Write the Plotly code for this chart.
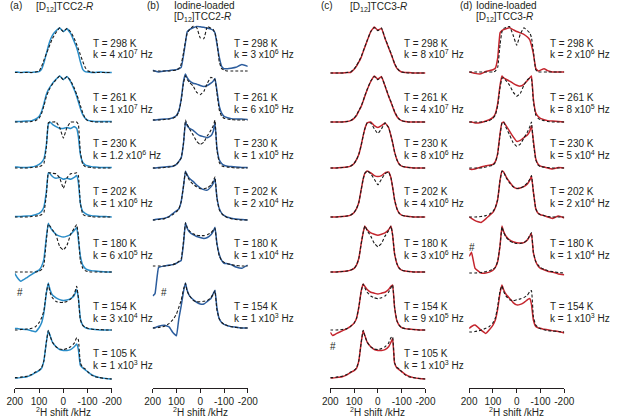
import plotly.graph_objects as go

# ---------------- data ----------------
X_KHZ = [200, 190, 175, 150, 130, 115, 100, 90, 80, 70, 62, 55, 45, 30, 15, 0,
         -15, -30, -45, -55, -62, -70, -80, -90, -100, -115, -130, -150, -175, -200]

A_TEMPS = [298, 261, 230, 202, 180, 154, 105]
A_RATES = ["4 x10<sup>7</sup>", "1 x10<sup>7</sup>", "1.2 x10<sup>6</sup>", "1 x10<sup>6</sup>",
           "6 x10<sup>5</sup>", "3 x10<sup>4</sup>", "1 x10<sup>3</sup>"]
A_EXP = [
    [2, 2, 1, 2, 1, 2, 3, 8, 22, 42, 58, 70, 82, 92, 98, 90, 96, 86, 68, 55, 42, 25, 8, 3, 2, 1, 1, 2, 1, 1],
    [1, 1, 1, 2, 3, 6, 12, 22, 40, 60, 70, 76, 84, 93, 100, 92, 99, 88, 70, 56, 44, 30, 16, 8, 4, 2, 1, 1, 1, 1],
    [2, 2, 1, 1, 2, 4, 8, 12, 20, 50, 95, 100, 95, 90, 86, 86, 88, 86, 90, 86, 68, 30, 12, 7, 5, 3, 2, 1, 1, 1],
    [1, 1, 1, 2, 3, 5, 8, 12, 22, 55, 96, 94, 88, 84, 86, 82, 84, 82, 86, 90, 75, 30, 12, 8, 5, 3, 2, 1, 1, 0],
    [-3, -12, -20, -12, -5, 0, 4, 12, 28, 75, 106, 98, 90, 82, 78, 76, 78, 82, 90, 97, 70, 35, 15, 8, 5, 3, 2, 1, 0, 0],
    [3, 3, 2, 1, -2, -4, 5, 15, 38, 80, 102, 88, 76, 70, 66, 64, 65, 68, 75, 88, 70, 25, 10, 5, 3, 2, 1, 0, 0, 0],
    [2, 2, 3, 5, 9, 14, 18, 23, 40, 80, 105, 95, 80, 70, 64, 62, 62, 64, 70, 76, 64, 30, 24, 20, 16, 10, 6, 3, 1, 0],
]
A_SIM = [
    [1, 1, 1, 1, 1, 2, 4, 14, 28, 42, 52, 62, 75, 88, 98, 90, 97, 90, 75, 62, 52, 40, 25, 12, 5, 2, 1, 1, 1, 1],
    [0, 0, 0, 0, 1, 3, 8, 18, 35, 55, 66, 74, 82, 92, 100, 92, 99, 90, 74, 60, 50, 36, 20, 8, 3, 1, 0, 0, 0, 0],
    [0, 0, 0, 0, 1, 2, 3, 5, 10, 45, 98, 100, 100, 100, 88, 65, 88, 100, 100, 100, 95, 35, 8, 3, 2, 1, 0, 0, 0, 0],
    [0, 0, 0, 0, 1, 2, 3, 5, 10, 48, 96, 96, 95, 94, 85, 62, 85, 94, 95, 96, 90, 30, 6, 3, 2, 1, 0, 0, 0, 0],
    [0, 0, 0, 0, 0, 0, 2, 5, 15, 70, 104, 100, 92, 80, 55, 48, 58, 82, 95, 103, 80, 25, 8, 3, 1, 0, 0, 0, 0, 0],
    [0, 0, 1, 2, 4, 7, 16, 26, 42, 82, 100, 82, 70, 62, 60, 60, 62, 67, 78, 95, 70, 22, 10, 6, 4, 2, 1, 1, 0, 0],
    [3, 3, 4, 6, 10, 15, 19, 24, 40, 80, 106, 94, 80, 70, 65, 64, 66, 70, 78, 90, 85, 35, 25, 22, 16, 9, 5, 3, 1, 0],
]

B_TEMPS = [298, 261, 230, 202, 180, 154]
B_RATES = ["3 x10<sup>6</sup>", "6 x10<sup>5</sup>", "1 x10<sup>5</sup>", "2 x10<sup>4</sup>",
           "1 x10<sup>4</sup>", "1 x10<sup>3</sup>"]
B_EXP = [
    [2, 0, -2, 0, 1, 2, 3, 5, 8, 35, 62, 85, 90, 94, 97, 96, 95, 93, 91, 88, 83, 60, 30, 10, 5, 5, 6, 8, 14, 10],
    [0, 0, 1, 2, 3, 5, 10, 20, 45, 85, 100, 92, 85, 80, 78, 75, 73, 75, 80, 85, 90, 65, 30, 15, 8, 5, 3, 2, 2, 1],
    [0, 0, 1, 2, 3, 4, 8, 14, 22, 55, 100, 92, 86, 82, 75, 70, 68, 66, 70, 80, 98, 45, 18, 10, 6, 4, 3, 2, 1, 1],
    [0, 1, 2, 4, 8, 14, 20, 24, 40, 75, 106, 98, 90, 84, 76, 70, 66, 65, 72, 80, 90, 50, 25, 15, 10, 6, 4, 2, 1, 0],
    [-65, -60, -3, 0, 2, 3, 6, 9, 12, 50, 94, 82, 74, 68, 64, 62, 60, 62, 68, 76, 84, 50, 25, 12, 6, 5, 3, -2, -5, 2],
    [0, 1, 4, 6, 2, -10, -17, 20, 48, 80, 98, 82, 70, 62, 56, 52, 52, 58, 64, 75, 82, 45, 20, 12, 8, 5, 3, 2, 0, 0],
]
B_SIM = [
    [0, 0, 0, 0, 0, 1, 2, 5, 15, 40, 65, 82, 90, 97, 95, 72, 70, 97, 93, 90, 82, 65, 20, 5, 2, 0, 0, 0, 0, 0],
    [0, 0, 0, 1, 2, 4, 8, 18, 42, 82, 96, 88, 82, 74, 60, 55, 62, 80, 93, 90, 88, 60, 22, 8, 4, 2, 1, 0, 0, 0],
    [0, 0, 0, 1, 2, 4, 8, 14, 22, 55, 104, 95, 85, 72, 58, 51, 56, 70, 82, 92, 104, 40, 12, 5, 3, 2, 1, 0, 0, 0],
    [0, 0, 1, 3, 7, 12, 18, 24, 40, 75, 106, 96, 86, 78, 72, 68, 68, 70, 76, 85, 94, 48, 22, 14, 9, 5, 3, 1, 0, 0],
    [0, 0, 0, 0, 1, 3, 6, 10, 15, 55, 94, 84, 76, 70, 67, 66, 66, 68, 72, 78, 82, 48, 22, 12, 8, 5, 3, 1, 0, 0],
    [0, 0, 1, 4, 10, 18, 30, 45, 60, 85, 97, 80, 70, 60, 57, 57, 58, 60, 66, 74, 81, 40, 20, 12, 8, 5, 3, 1, 0, 0],
]

C_TEMPS = [298, 261, 230, 202, 180, 154, 105]
C_RATES = ["8 x10<sup>7</sup>", "4 x10<sup>7</sup>", "8 x10<sup>6</sup>", "4 x10<sup>6</sup>",
           "3 x10<sup>6</sup>", "9 x10<sup>5</sup>", "1 x10<sup>3</sup>"]
C_EXP = [
    [0, 0, 0, 0, 1, 1, 8, 15, 24, 34, 46, 56, 70, 90, 100, 93, 97, 75, 55, 42, 32, 20, 10, 5, 2, 1, 1, 0, 0, 0],
    [0, 0, 0, 0, 1, 3, 8, 14, 24, 34, 45, 56, 70, 88, 100, 93, 99, 78, 56, 43, 33, 22, 12, 6, 3, 1, 0, 0, 0, 0],
    [0, 0, 0, 1, 2, 4, 10, 18, 30, 50, 70, 85, 98, 100, 92, 88, 92, 98, 88, 70, 55, 35, 18, 8, 4, 2, 1, 0, 0, 0],
    [0, 0, 0, 1, 2, 4, 10, 18, 32, 60, 82, 95, 100, 96, 90, 88, 90, 96, 98, 85, 65, 38, 18, 8, 4, 2, 1, 0, 0, 0],
    [0, 0, 0, 1, 2, 4, 8, 15, 30, 62, 85, 100, 92, 85, 82, 80, 82, 85, 92, 100, 80, 40, 18, 8, 4, 2, 1, 0, 0, 0],
    [-5, -12, -8, -2, 3, 8, 15, 25, 50, 85, 100, 95, 88, 82, 80, 78, 80, 82, 88, 95, 98, 50, 20, 10, 5, 3, 2, 1, 0, 0],
    [2, 2, 3, 5, 9, 14, 18, 23, 40, 80, 105, 95, 80, 70, 64, 62, 62, 64, 70, 80, 88, 35, 24, 20, 16, 10, 6, 3, 1, 0],
]
C_SIM = [
    [0, 0, 0, 0, 1, 2, 9, 16, 25, 36, 47, 57, 71, 90, 99, 92, 98, 76, 56, 43, 33, 21, 11, 5, 2, 1, 0, 0, 0, 0],
    [0, 0, 0, 0, 1, 3, 9, 15, 25, 35, 46, 57, 71, 89, 99, 92, 98, 79, 57, 44, 34, 23, 13, 6, 3, 1, 0, 0, 0, 0],
    [0, 0, 0, 1, 2, 4, 10, 18, 30, 50, 70, 85, 98, 98, 85, 75, 85, 98, 88, 70, 55, 35, 18, 8, 4, 2, 1, 0, 0, 0],
    [0, 0, 0, 1, 2, 4, 10, 18, 32, 60, 82, 95, 100, 94, 82, 70, 82, 94, 98, 85, 65, 38, 18, 8, 4, 2, 1, 0, 0, 0],
    [0, 0, 0, 1, 2, 4, 8, 15, 30, 62, 85, 100, 90, 78, 62, 55, 62, 78, 90, 100, 80, 40, 18, 8, 4, 2, 1, 0, 0, 0],
    [0, 0, 0, 1, 3, 8, 15, 25, 50, 85, 100, 92, 82, 74, 70, 68, 70, 74, 82, 92, 98, 50, 20, 10, 5, 3, 2, 1, 0, 0],
    [3, 3, 4, 6, 10, 15, 19, 24, 40, 80, 106, 94, 80, 70, 65, 64, 66, 70, 78, 90, 92, 35, 25, 22, 16, 9, 5, 3, 1, 0],
]

D_TEMPS = [298, 261, 230, 202, 180, 154]
D_RATES = ["2 x10<sup>6</sup>", "8 x10<sup>5</sup>", "5 x10<sup>4</sup>", "2 x10<sup>4</sup>",
           "1 x10<sup>4</sup>", "1 x10<sup>3</sup>"]
D_EXP = [
    [0, -1, -3, -4, 1, 3, 5, 8, 30, 85, 90, 92, 94, 96, 92, 88, 85, 82, 76, 70, 58, 40, 8, 2, 4, 7, 3, 0, 0, 0],
    [0, 0, -2, -1, 2, 5, 10, 18, 40, 80, 100, 96, 93, 89, 84, 80, 78, 82, 90, 96, 100, 50, 20, 12, 8, 5, 3, 2, 1, 0],
    [-2, -3, -2, 2, 5, 6, 8, 14, 32, 75, 98, 100, 92, 80, 68, 58, 60, 66, 72, 80, 92, 60, 20, 8, 4, 2, 0, -2, 1, 0],
    [0, -3, -8, -12, -4, 3, 10, 20, 38, 80, 100, 98, 88, 76, 66, 62, 63, 66, 72, 80, 89, 55, 18, 8, 5, 3, 0, -3, 2, -2],
    [36, 45, 10, 0, 0, 2, 6, 12, 25, 60, 102, 90, 80, 72, 68, 66, 65, 66, 72, 80, 86, 45, 25, 15, 10, 7, 4, 2, -2, -4],
    [8, 12, 15, 4, -3, 5, 15, 26, 50, 85, 102, 92, 82, 73, 64, 59, 60, 64, 70, 73, 60, 26, 12, 9, 8, 6, 5, 3, 1, -2],
]
D_SIM = [
    [0, 0, 0, 0, 0, 0, 0, 2, 10, 60, 88, 95, 97, 99, 80, 58, 82, 96, 90, 85, 75, 45, 5, 0, 0, 0, 0, 0, 0, 0],
    [0, 0, 0, 0, 1, 3, 8, 15, 35, 75, 95, 96, 90, 80, 65, 56, 62, 80, 92, 95, 94, 45, 15, 8, 5, 3, 1, 0, 0, 0],
    [0, 0, 0, 0, 2, 4, 6, 12, 30, 72, 98, 100, 88, 72, 55, 47, 52, 65, 78, 90, 100, 55, 18, 6, 3, 2, 1, 0, 0, 0],
    [0, 0, 0, 1, 3, 6, 12, 20, 38, 80, 100, 98, 86, 74, 66, 62, 63, 67, 74, 82, 90, 55, 18, 8, 5, 3, 1, 0, 0, 0],
    [0, 0, 0, 1, 3, 5, 8, 12, 25, 60, 100, 88, 78, 70, 66, 64, 64, 66, 72, 82, 88, 45, 25, 17, 12, 8, 5, 3, 1, 0],
    [0, 0, 1, 4, 8, 12, 20, 30, 55, 90, 100, 88, 78, 70, 68, 70, 72, 75, 80, 88, 90, 33, 15, 10, 7, 5, 3, 2, 1, 0],
]

# ---------------- layout constants ----------------
W, H = 617, 419
AXIS_PX = 388
FONT = "Liberation Sans, Arial, sans-serif"
TXT = "#231f20"
PANELS = [
    dict(key="a", exp=A_EXP, sim=A_SIM, temps=A_TEMPS, rates=A_RATES, color="#2a8dc8",
         xpx=(7, 107), base=[73, 122, 168, 217, 272, 330, 379], lab_x=86),
    dict(key="b", exp=B_EXP, sim=B_SIM, temps=B_TEMPS, rates=B_RATES, color="#2c5d9d",
         xpx=(149, 247), base=[71, 120, 168, 220, 266, 328], lab_x=231),
    dict(key="c", exp=C_EXP, sim=C_SIM, temps=C_TEMPS, rates=C_RATES, color="#c4262e",
         xpx=(332, 430), base=[73, 122, 168, 217, 272, 330, 379], lab_x=406),
    dict(key="d", exp=D_EXP, sim=D_SIM, temps=D_TEMPS, rates=D_RATES, color="#c4262e",
         xpx=(475, 573), base=[72, 122, 168, 217, 273, 332], lab_x=556),
]
T_Y = [43, 98, 143, 191, 243, 306, 353]
SCALE = 0.46

fig = go.Figure()
annotations = []


def ann(text, px, py, anchor="left", size=10):
    annotations.append(dict(text=text, x=px / W, y=1 - py / H, xref="paper", yref="paper",
                            xanchor=anchor, yanchor="middle", showarrow=False,
                            font=dict(family=FONT, size=size, color=TXT)))


for i, p in enumerate(PANELS):
    xa = "x" if i == 0 else f"x{i + 1}"
    for j in range(len(p["temps"])):
        off = AXIS_PX - p["base"][j]
        ye = [off + v * SCALE for v in p["exp"][j]]
        ys = [off + v * SCALE for v in p["sim"][j]]
        fig.add_trace(go.Scatter(x=X_KHZ, y=ye, mode="lines", xaxis=xa, yaxis="y",
                                 line=dict(color=p["color"], width=1.5, shape="spline", smoothing=0.3),
                                 showlegend=False, hoverinfo="skip"))
        fig.add_trace(go.Scatter(x=X_KHZ, y=ys, mode="lines", xaxis=xa, yaxis="y",
                                 line=dict(color="#1a1a1a", width=1.1, dash="3px,2px", shape="spline", smoothing=0.3),
                                 showlegend=False, hoverinfo="skip"))
        ann(f"T = {p['temps'][j]} K", p["lab_x"], T_Y[j])
        ann(f"k = {p['rates'][j]} Hz", p["lab_x"], T_Y[j] + 11.5)
    axname = "xaxis" if i == 0 else f"xaxis{i + 1}"
    fig.update_layout(**{axname: dict(
        domain=[p["xpx"][0] / W, p["xpx"][1] / W], range=[200, -200], anchor="y",
        tickvals=[200, 100, 0, -100, -200], ticktext=["200", "100", "0", "-100", "-200"],
        ticks="outside", ticklen=4, tickwidth=1, tickcolor="#231f20",
        showline=True, linecolor="#231f20", linewidth=1, showgrid=False, zeroline=False,
        tickfont=dict(family=FONT, size=10, color=TXT), fixedrange=True)})
    ann("<sup>2</sup>H shift /kHz", (p["xpx"][0] + p["xpx"][1]) / 2, 412, anchor="center")

# panel headings
ann("(a)", 0, 6)
ann("[D<sub>12</sub>]TCC2-<i>R</i>", 27, 7)
ann("(b)", 141, 6)
ann("Iodine-loaded", 169, 6)
ann("[D<sub>12</sub>]TCC2-<i>R</i>", 169, 17)
ann("(c)", 320, 6)
ann("[D<sub>12</sub>]TCC3-<i>R</i>", 350, 7)
ann("(d)", 464, 6)
ann("Iodine-loaded", 480, 6)
ann("[D<sub>12</sub>]TCC3-<i>R</i>", 480, 17)
# artefact markers
ann("#", 12, 292, anchor="center")
ann("#", 161, 292, anchor="center")
ann("#", 335, 346, anchor="center")
ann("#", 478, 248, anchor="center")

fig.update_layout(
    width=W, height=H, margin=dict(l=0, r=0, t=0, b=0),
    paper_bgcolor="white", plot_bgcolor="rgba(0,0,0,0)",
    yaxis=dict(domain=[(H - AXIS_PX) / H, 1], range=[0, AXIS_PX], visible=False, fixedrange=True),
    annotations=annotations, showlegend=False,
)
fig.write_html("out.html", config={"displayModeBar": False},
               post_script="document.body.style.margin='0';document.body.style.overflow='hidden';")
